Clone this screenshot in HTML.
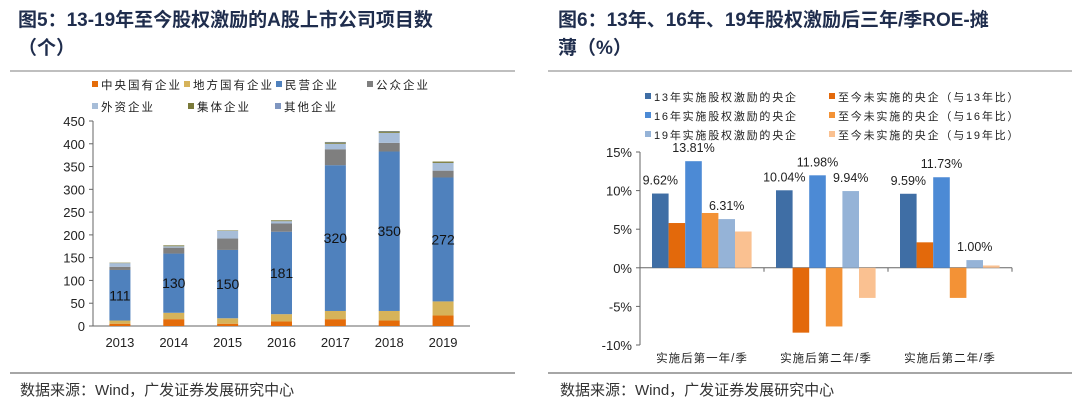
<!DOCTYPE html>
<html><head><meta charset="utf-8"><style>
body{margin:0;width:1080px;height:409px;background:#fff;overflow:hidden;font-family:"Liberation Sans","Noto Sans CJK SC",sans-serif;}
svg{position:absolute;left:0;top:0}
</style></head><body>
<svg id="c" width="1080" height="409"></svg>
<script>
const years=["2013","2014","2015","2016","2017","2018","2019"];
const central=[5,15,5,10,15,12,23];
const local=[7,14,12,16,18,21,31];
const privateCo=[111,130,150,181,320,350,272];
const publicCo=[7,13,25,18,35,19,15];
const foreign=[8,3,17,5,12,22,17];
const collective=[1,2,1,2,3,3,3];
const other=[0,0,0,0,1,1,0];
const leftTicks=[0,50,100,150,200,250,300,350,400,450];
const groups=["实施后第一年/季","实施后第二年/季","实施后第二年/季"];
const s13=[9.62,10.04,9.59], n13=[5.8,-8.4,3.3], s16=[13.81,11.98,11.73], n16=[7.1,-7.6,-3.9], s19=[6.31,9.94,1.00], n19=[4.7,-3.9,0.3];
const rightTicks=[15,10,5,0,-5,-10];
const shownLabels=[[9.62,null,13.81,null,6.31,null],[10.04,null,11.98,null,9.94,null],[9.59,null,11.73,null,1.00,null]];

const svg=document.getElementById('c');const NS="http://www.w3.org/2000/svg";
function el(t,a,p){const e=document.createElementNS(NS,t);for(const k in a)e.setAttribute(k,a[k]);(p||svg).appendChild(e);return e;}
function txt(x,y,s,a){const e=el('text',Object.assign({x:x,y:y,'font-size':13,fill:'#222'},a));e.textContent=s;return e;}
const CJK='"Liberation Sans","Noto Sans CJK SC",sans-serif';
let t=txt(18,26,"图5：13-19年至今股权激励的A股上市公司项目数",{'font-size':19,'font-weight':'bold',fill:'#1f2d4d'});
txt(18,54,"（个）",{'font-size':19,'font-weight':'bold',fill:'#1f2d4d'});
t=txt(558,26,"图6：13年、16年、19年股权激励后三年/季ROE-摊",{'font-size':19,'font-weight':'bold',fill:'#1f2d4d'});
txt(558,54,"薄（%）",{'font-size':19,'font-weight':'bold',fill:'#1f2d4d'});
for(const [a,b] of [[10,515],[548,1072]]){el('line',{x1:a,x2:b,y1:71,y2:71,stroke:'#aaa','stroke-width':1.5});el('line',{x1:a,x2:b,y1:373,y2:373,stroke:'#888','stroke-width':1.5});}
t=txt(20,395,"数据来源：Wind，广发证券发展研究中心",{'font-size':15,fill:'#333'});
t=txt(560,395,"数据来源：Wind，广发证券发展研究中心",{'font-size':15,fill:'#333'});

const L={x0:93,x1:470,y0:326,yTop:121,max:450};
const ly=v=>L.y0-(v/L.max)*(L.y0-L.yTop);
const step=(L.x1-L.x0)/years.length;
const lx=i=>L.x0+step*(i+0.5);
const series=[["中央国有企业",central,"#e46c0a"],["地方国有企业",local,"#d6b35a"],["民营企业",privateCo,"#4f81bd"],["公众企业",publicCo,"#7f7f7f"],["外资企业",foreign,"#a7bdd8"],["集体企业",collective,"#7a7a3a"],["其他企业",other,"#7f96c0"]];
el('line',{x1:L.x0,x2:L.x0,y1:L.yTop,y2:L.y0,stroke:'#666'});
el('line',{x1:L.x0,x2:L.x1,y1:L.y0,y2:L.y0,stroke:'#666'});
leftTicks.forEach(v=>{el('line',{x1:L.x0-4,x2:L.x0,y1:ly(v),y2:ly(v),stroke:'#666'});const e=txt(L.x0-8,ly(v)+5,v,{'text-anchor':'end','font-size':13});});
years.forEach((y,i)=>{const e=txt(lx(i),347,y,{'text-anchor':'middle','font-size':13});
 let acc=0;series.forEach(s=>{const v=s[1][i];if(v<=0)return;const r=el('rect',{x:lx(i)-10.5,width:21,y:ly(acc+v),height:ly(acc)-ly(acc+v),fill:s[2]});acc+=v;});
 const vl=txt(lx(i),ly(central[i]+local[i]+privateCo[i]/2)+5,privateCo[i],{'text-anchor':'middle','font-size':14,fill:'#111'});
});
const lpos=[[92,85],[184,85],[276,85],[367,85],[92,107],[188,107],[275,107]];
series.forEach((s,i)=>{const g=el('g',{});el('rect',{x:lpos[i][0],y:lpos[i][1]-4,width:6,height:6,fill:s[2]},g);const e=el('text',{x:lpos[i][0]+9,y:lpos[i][1]+4,'font-size':11.5,'letter-spacing':2,fill:'#222','font-family':CJK},g);e.textContent=s[0];});

const R={x0:640,x1:1012,yTop:152,yBot:345,max:15,min:-10};
const ry=v=>R.yTop+(R.max-v)/(R.max-R.min)*(R.yBot-R.yTop);
const gw=(R.x1-R.x0)/groups.length;
const rs=[["13年实施股权激励的央企",s13,"#3f6ea5"],["至今未实施的央企（与13年比）",n13,"#e3690b"],["16年实施股权激励的央企",s16,"#4c8ad5"],["至今未实施的央企（与16年比）",n16,"#f39236"],["19年实施股权激励的央企",s19,"#95b3d7"],["至今未实施的央企（与19年比）",n19,"#fac191"]];
el('line',{x1:R.x0,x2:R.x0,y1:R.yTop,y2:R.yBot,stroke:'#666'});
el('line',{x1:R.x0,x2:R.x1,y1:ry(0),y2:ry(0),stroke:'#666'});
rightTicks.forEach(v=>{el('line',{x1:R.x0-4,x2:R.x0,y1:ry(v),y2:ry(v),stroke:'#666'});const e=txt(R.x0-8,ry(v)+5,v+"%",{'text-anchor':'end','font-size':13});});
groups.forEach((g,gi)=>{const gx=R.x0+gw*gi;el('line',{x1:gx+gw,x2:gx+gw,y1:ry(0),y2:ry(0)+4,stroke:'#666'});
 const e=txt(gx+gw/2,362,g,{'text-anchor':'middle','font-size':11.5,'letter-spacing':1,'font-family':CJK});
 const bw=16.6,start=gx+12;
 rs.forEach((s,si)=>{const v=s[1][gi];const r=el('rect',{x:start+bw*si,width:bw,y:Math.min(ry(v),ry(0)),height:Math.abs(ry(v)-ry(0)),fill:s[2]});
  const lab=shownLabels[gi][si];if(lab!==null){const l=txt(start+bw*si+bw/2,ry(v)-9,lab.toFixed(2)+"%",{'text-anchor':'middle','font-size':12.5});}
 });
});
rs.forEach((s,i)=>{const x=i%2?829:645,y=97+Math.floor(i/2)*19;const g=el('g',{});el('rect',{x:x,y:y-4,width:6,height:6,fill:s[2]},g);const e=el('text',{x:x+9,y:y+4,'font-size':11,'letter-spacing':1.8,fill:'#222','font-family':CJK},g);e.textContent=s[0];});
</script>
</body></html>
